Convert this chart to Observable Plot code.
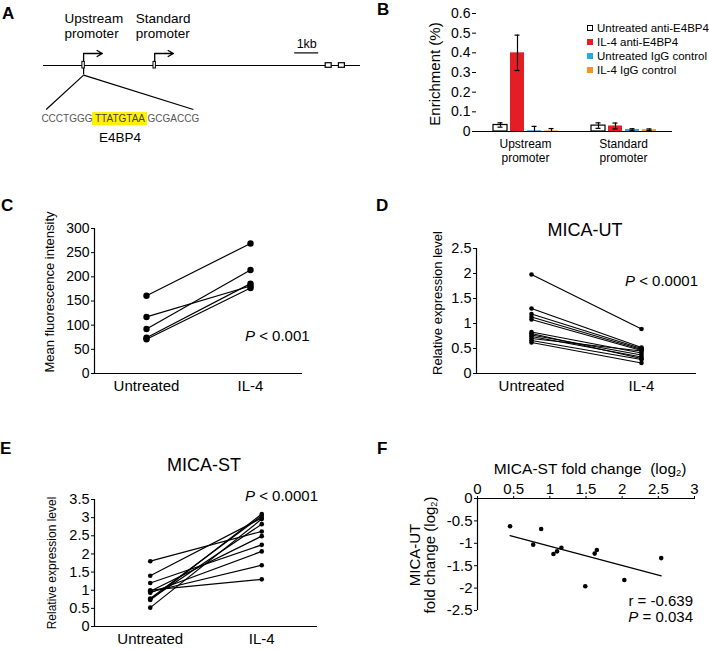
<!DOCTYPE html>
<html><head><meta charset="utf-8">
<script src="https://cdn.jsdelivr.net/npm/d3@7"></script>
<script src="https://cdn.jsdelivr.net/npm/@observablehq/plot@0.6"></script>
<style>
body{margin:0;background:#fff;}
#fig{position:relative;width:709px;height:650px;overflow:hidden;font-family:"Liberation Sans",Arial,sans-serif;color:#000;background:#fff;}
.p{position:absolute;}
.t{position:absolute;white-space:nowrap;line-height:1;}
.lbl{font-weight:bold;font-size:17px;}
.v{position:absolute;white-space:nowrap;transform:translate(-50%,-50%) rotate(-90deg);text-align:center;}
.leg div{height:14px;line-height:14px;font-size:11.5px;display:flex;align-items:center;}
.leg span.sq{display:inline-block;width:6px;height:6px;margin-right:4px;box-sizing:border-box;}
sub{font-size:0.6em;vertical-align:-0.2em;line-height:0;}
</style></head><body><div id="fig"></div>
<script>
// ---------- Panel A: gene diagram (kb) ----------
const geneLength = 13.2;
const promoterNames = ["Upstream\npromoter", "Standard\npromoter"];
const promoterPos = [1.67, 4.63];
const exonStart = [11.75, 12.3];
const exonEnd = [12.0, 12.55];
const scaleBar = [10.46, 11.46];
const insetEnds = [0.11, 6.24];
const seqLeft = "CCCTGGG", motif = "TTATGTAA", seqRight = "GCGACCG";
const motifStart = 2.04, motifEnd = 4.33;
const motifName = "E4BP4";

// ---------- Panel B: ChIP enrichment ----------
const bGroups = ["Upstream\npromoter", "Standard\npromoter"];
const bSeries = ["Untreated anti-E4BP4", "IL-4 anti-E4BP4", "Untreated IgG control", "IL-4 IgG control"];
const bColors = ["#ffffff", "#e31e24", "#29a9e1", "#f7941d"];
const bUpstreamMean = [0.033, 0.400, 0.004, 0.003];
const bUpstreamErr = [0.011, 0.090, 0.022, 0.012];
const bStandardMean = [0.030, 0.028, 0.010, 0.009];
const bStandardErr = [0.014, 0.015, 0.004, 0.004];
const bTicks = [0, 0.1, 0.2, 0.3, 0.4, 0.5, 0.6];

// ---------- Paired panels ----------
const pairGroups = ["Untreated", "IL-4"];
const cUntreated = [161, 117, 92, 74, 71];
const cIL4 = [269, 181, 214, 186, 177];
const cTicks = [0, 50, 100, 150, 200, 250, 300];

const dUntreated = [1.98, 1.30, 1.19, 1.13, 1.08, 0.83, 0.80, 0.77, 0.74, 0.70, 0.66, 0.62];
const dIL4 = [0.89, 0.52, 0.50, 0.48, 0.46, 0.41, 0.30, 0.37, 0.33, 0.45, 0.28, 0.21];
const dTicks = [0, 0.5, 1, 1.5, 2, 2.5];

const eUntreated = [1.80, 1.40, 1.20, 1.00, 0.97, 0.95, 0.93, 0.77, 0.75, 0.73, 0.52];
const eIL4 = [2.62, 2.99, 2.25, 1.30, 2.49, 1.69, 2.07, 3.05, 2.82, 3.10, 2.96];
const eTicks = [0, 0.5, 1, 1.5, 2, 2.5, 3, 3.5];

// ---------- Panel F: correlation ----------
const fST = [0.45, 0.77, 0.88, 1.05, 1.10, 1.16, 1.49, 1.62, 1.65, 2.03, 2.54];
const fUT = [-0.62, -1.03, -0.68, -1.24, -1.18, -1.10, -1.96, -1.23, -1.15, -1.82, -1.33];
const fXTicks = [0, 0.5, 1, 1.5, 2, 2.5, 3];
const fYTicks = [0, -0.5, -1, -1.5, -2, -2.5];

const FONT = '"Liberation Sans", Arial, sans-serif';
const fig = document.getElementById("fig");
const baseStyle = {fontFamily: FONT, background: "transparent", color: "black", overflow: "visible"};

function place(node, left, top, w) {
  const d = document.createElement("div");
  d.className = "p";
  d.style.left = left + "px"; d.style.top = top + "px"; d.style.width = w + "px";
  d.appendChild(node);
  fig.appendChild(d);
}
function text(html, left, top, size, extra) {
  const d = document.createElement("div");
  d.className = "t";
  d.style.left = left + "px"; d.style.top = top + "px"; d.style.fontSize = size + "px";
  if (extra) Object.assign(d.style, extra);
  d.innerHTML = html;
  fig.appendChild(d);
  return d;
}
function vtext(html, cx, cy, size, lh) {
  const d = document.createElement("div");
  d.className = "v";
  d.style.left = cx + "px"; d.style.top = cy + "px"; d.style.fontSize = size + "px";
  d.style.lineHeight = (lh || size) + "px";
  d.innerHTML = html;
  fig.appendChild(d);
}

// ---------- A ----------
const plotA = Plot.plot({
  width: 370, height: 165, marginLeft: 43, marginRight: 10, marginTop: 5, marginBottom: 4,
  style: baseStyle,
  x: {domain: [0, geneLength], axis: null},
  y: {domain: [-8, 5], axis: null},
  marks: [
    Plot.ruleY([0], {x1: 0, x2: geneLength, strokeWidth: 1.2}),
    Plot.ruleX(promoterPos, {x: d => d, y1: 0.3, y2: 1, strokeWidth: 1.3}),
    Plot.arrow(promoterPos, {x1: d => d, x2: d => d + 0.78, y1: 1, y2: 1, headLength: 7, strokeWidth: 1.3}),
    Plot.rect(promoterPos, {x1: d => d - 0.05, x2: d => d + 0.05, y1: -0.25, y2: 0.3, fill: "white", stroke: "black", strokeWidth: 1}),
    Plot.rect(exonStart, {x1: d => d, x2: (d, i) => exonEnd[i], y1: -0.19, y2: 0.19, fill: "white", stroke: "black", strokeWidth: 1.2}),
    Plot.ruleY([1.05], {x1: scaleBar[0], x2: scaleBar[1], strokeWidth: 1.2}),
    Plot.text(["1kb"], {x: (scaleBar[0] + scaleBar[1]) / 2, y: 1.83, text: d => d, fontSize: 12.5}),
    Plot.text(promoterNames, {x: (d, i) => promoterPos[i], y: 3.29, text: d => d, textAnchor: "start", dx: -19, fontSize: 13.5, lineHeight: 1.12}),
    Plot.ruleX([promoterPos[0]], {x: d => d, y1: -0.25, y2: -0.8, strokeWidth: 1.2}),
    Plot.link(insetEnds, {x1: promoterPos[0], y1: -0.8, x2: d => d, y2: -3.67, strokeWidth: 1.2}),
    Plot.rect([motif], {x1: motifStart, x2: motifEnd, y1: -3.92, y2: -5.0, fill: "#fff200"}),
    Plot.text([seqLeft], {x: motifStart, y: -4.42, text: d => d, textAnchor: "end", fontSize: 10, fill: "#555"}),
    Plot.text([motif], {x: (motifStart + motifEnd) / 2, y: -4.42, text: d => d, fontSize: 10, fill: "#444"}),
    Plot.text([seqRight], {x: motifEnd, y: -4.42, text: d => d, textAnchor: "start", fontSize: 10, fill: "#555"}),
    Plot.text([motifName], {x: (motifStart + motifEnd) / 2, y: -6.04, text: d => d, fontSize: 13.5})
  ]
});
place(plotA, 0, 0, 370);

// ---------- B ----------
const bData = bGroups.flatMap((g, gi) => bSeries.map((s, si) => {
  const m = gi ? bStandardMean[si] : bUpstreamMean[si];
  const e = gi ? bStandardErr[si] : bUpstreamErr[si];
  return {group: g, series: s, mean: m, lo: Math.max(0, m - e), hi: m + e};
}));
const plotB = Plot.plot({
  width: 349, height: 168, marginLeft: 115, marginRight: 37, marginTop: 13, marginBottom: 37,
  style: baseStyle,
  fx: {domain: bGroups, padding: 0, label: null},
  x: {domain: bSeries, paddingInner: 0.18, paddingOuter: 0.9, axis: null, label: null},
  y: {domain: [0, 0.6], label: null},
  color: {domain: bSeries, range: bColors},
  marks: [
    Plot.barY(bData, {fx: "group", x: "series", y: "mean", fill: "series"}),
    Plot.barY(bData.filter(d => d.series === bSeries[0]), {fx: "group", x: "series", y: "mean", fill: "none", stroke: "black", strokeWidth: 1.2}),
    Plot.ruleY([0], {strokeWidth: 1.2}),
    Plot.ruleX(bData, {fx: "group", x: "series", y1: "lo", y2: "hi", strokeWidth: 1.2}),
    Plot.tickY(bData, {fx: "group", x: "series", y: "hi", insetLeft: 4.5, insetRight: 4.5, strokeWidth: 1.2}),
    Plot.tickY(bData.filter(d => d.lo > 0), {fx: "group", x: "series", y: "lo", insetLeft: 4.5, insetRight: 4.5, strokeWidth: 1.2}),
    Plot.axisY({ticks: bTicks, tickFormat: d => String(d), tickSize: 4, tickPadding: 2, fontSize: 14, label: null, line: true}),
    Plot.axisFx({anchor: "bottom", tickSize: 0, tickPadding: 6, fontSize: 12, label: null, lineHeight: 1.2})
  ]
});
place(plotB, 360, 0, 349);

// ---------- paired plots ----------
function pairRows(unt, il4) {
  return unt.flatMap((u, i) => [{id: i, t: 0, v: u}, {id: i, t: 1, v: il4[i]}]);
}
function pairPlot(rows, o) {
  return Plot.plot({
    width: o.width, height: o.height,
    marginLeft: o.ml, marginRight: o.mr, marginTop: o.mt, marginBottom: o.mb,
    style: baseStyle,
    x: {domain: [-0.5, 1.5], label: null},
    y: {domain: o.yDomain, label: null},
    marks: [
      Plot.ruleX([-0.5], {strokeWidth: 1.2}),
      Plot.ruleY([0], {strokeWidth: 1.2}),
      Plot.axisY({ticks: o.yTicks, tickFormat: d => String(d), tickSize: 3, tickPadding: 2, fontSize: o.tickFont, label: null}),
      Plot.axisX({ticks: [0, 1], tickFormat: i => pairGroups[i], tickSize: 0, tickPadding: 7, fontSize: 15, label: null}),
      Plot.line(rows, {x: "t", y: "v", z: "id", stroke: "black", strokeWidth: 1.2}),
      Plot.dot(rows, {x: "t", y: "v", r: o.r, fill: "black"})
    ]
  });
}
place(pairPlot(pairRows(cUntreated, cIL4), {width: 330, height: 215, ml: 94, mr: 28, mt: 38, mb: 32, yDomain: [0, 300], yTicks: cTicks, tickFont: 14, r: 3.2}), 0, 190, 330);
place(pairPlot(pairRows(dUntreated, dIL4), {width: 349, height: 175, ml: 116, mr: 13, mt: 18, mb: 32, yDomain: [0, 2.5], yTicks: dTicks, tickFont: 14.5, r: 2.3}), 360, 230, 349);
place(pairPlot(pairRows(eUntreated, eIL4), {width: 340, height: 165, ml: 94, mr: 23, mt: 14, mb: 24, yDomain: [0, 3.5], yTicks: eTicks, tickFont: 14.5, r: 2.3}), 0, 485, 340);

// ---------- F ----------
const fRows = fST.map((x, i) => ({x, y: fUT[i]}));
const plotF = Plot.plot({
  width: 349, height: 180, marginLeft: 117, marginRight: 15, marginTop: 28, marginBottom: 40,
  style: baseStyle,
  x: {domain: [0, 3], label: null},
  y: {domain: [-2.5, 0], label: null},
  marks: [
    Plot.ruleY([0], {strokeWidth: 1.2}),
    Plot.ruleX([0], {strokeWidth: 1.2}),
    Plot.axisX({anchor: "top", ticks: fXTicks, tickFormat: d => String(d), tickSize: 3, tickPadding: 2, fontSize: 15, label: null}),
    Plot.axisY({ticks: fYTicks, tickFormat: d => String(d), tickSize: 3, tickPadding: 2, fontSize: 15, label: null}),
    Plot.linearRegressionY(fRows, {x: "x", y: "y", ci: 0, stroke: "black", strokeWidth: 1.2}),
    Plot.dot(fRows, {x: "x", y: "y", r: 2.3, fill: "black"})
  ]
});
place(plotF, 360, 470, 349);

// ---------- texts ----------
const letters = [["A", 2, 5], ["B", 377, 1], ["C", 1, 197], ["D", 376, 197], ["E", 0, 440], ["F", 377, 440]];
letters.forEach(([l, x, y]) => text(l, x, y, 17).classList.add("lbl"));

text("MICA-UT", 585, 220.7, 18, {transform: "translateX(-50%)"});
text("MICA-ST", 204, 455.6, 18, {transform: "translateX(-50%)"});
text("MICA-ST fold change&nbsp; (log<sub>2</sub>)", 590, 461, 15.5, {transform: "translateX(-50%)"});

text("<i>P</i> &lt; 0.001", 245, 328, 15);
text("<i>P</i> &lt; 0.0001", 625, 273, 15);
text("<i>P</i> &lt; 0.0001", 245, 488, 15);
text("r = -0.639<br><i>P</i> = 0.034", 693, 593, 15, {transform: "translateX(-100%)", textAlign: "right", lineHeight: "16px"});

vtext("Enrichment (%)", 434, 74, 15);
vtext("Mean fluorescence intensity", 49, 292, 13);
vtext("Relative expression level", 437, 303, 13);
vtext("Relative expression level", 51.5, 563, 12);
vtext("MICA-UT<br>fold change (log<sub>2</sub>)", 421.5, 555, 15, 15);

// legend
const leg = document.createElement("div");
leg.className = "p leg";
leg.style.left = "587px"; leg.style.top = "21px";
bSeries.forEach((s, i) => {
  const row = document.createElement("div");
  const sq = document.createElement("span");
  sq.className = "sq";
  sq.style.background = bColors[i];
  if (i === 0) sq.style.border = "1px solid #000";
  row.appendChild(sq);
  row.appendChild(document.createTextNode(s));
  leg.appendChild(row);
});
fig.appendChild(leg);
</script></body></html>
